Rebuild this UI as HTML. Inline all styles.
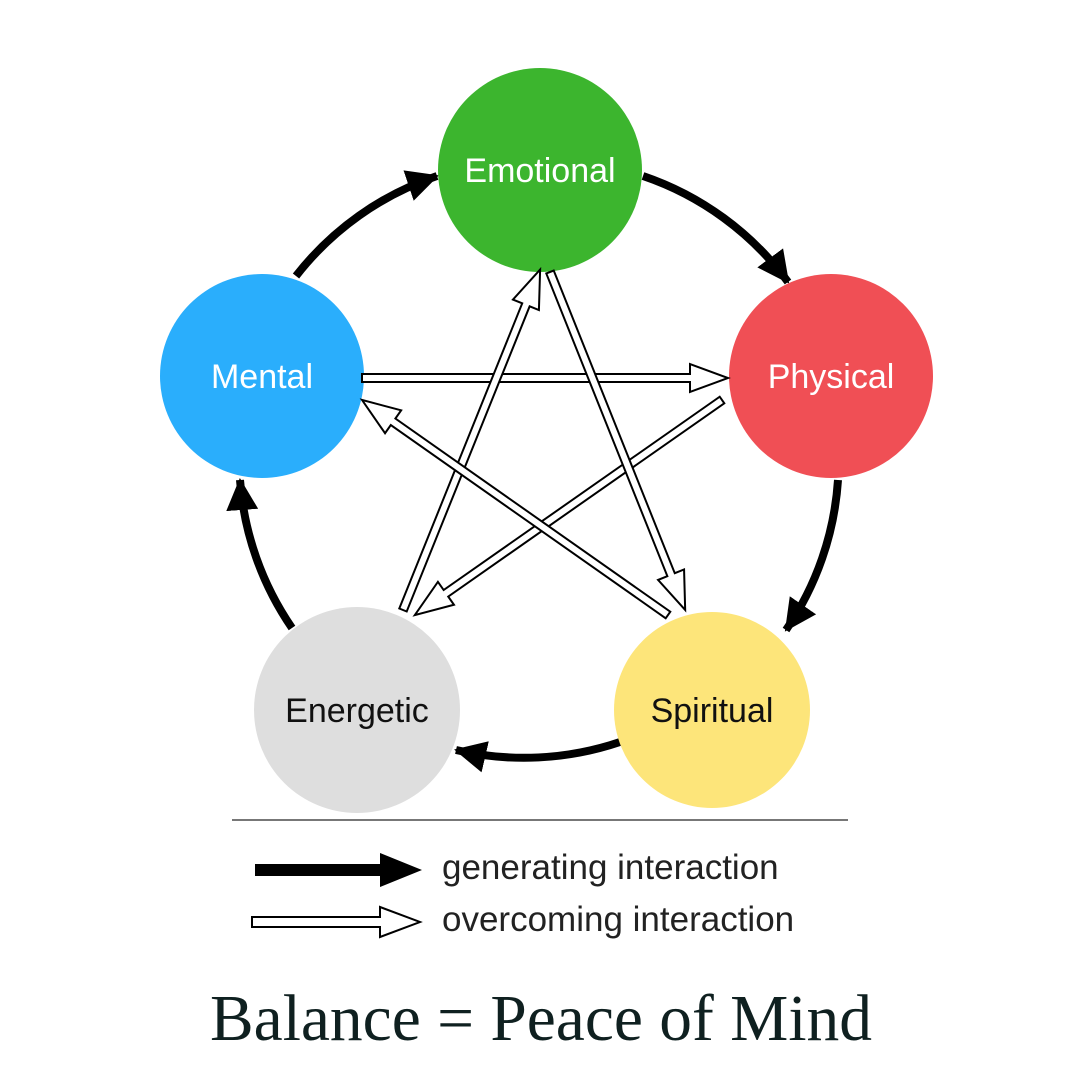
<!DOCTYPE html>
<html><head><meta charset="utf-8"><style>html,body{margin:0;padding:0;background:#fff}svg{display:block}</style></head>
<body>
<svg width="1080" height="1080" viewBox="0 0 1080 1080" xmlns="http://www.w3.org/2000/svg">
<defs>
<marker id="ah" markerUnits="userSpaceOnUse" markerWidth="40" markerHeight="40" refX="30" refY="16" orient="auto">
<path d="M0,0 L32,16 L0,32 Z" fill="#000"/>
</marker>
</defs>
<g fill="none" stroke="#000" stroke-width="8" marker-end="url(#ah)">
<path d="M296,276 A300 300 0 0 1 437,176"/>
<path d="M643,176 A300 300 0 0 1 788,282"/>
<path d="M838,480 A300 300 0 0 1 786,630"/>
<path d="M620,742 A300 300 0 0 1 456,750"/>
<path d="M292,628 A300 300 0 0 1 240,480"/>
</g>
<circle cx="540" cy="170" r="102" fill="#3cb52e"/>
<circle cx="831" cy="376" r="102" fill="#f04f55"/>
<circle cx="712" cy="710" r="98" fill="#fde57a"/>
<circle cx="357" cy="710" r="103" fill="#dedede"/>
<circle cx="262" cy="376" r="102" fill="#2aaefc"/>
<g font-family="Liberation Sans, sans-serif" font-size="34" text-anchor="middle">
<text x="540" y="182" fill="#fff">Emotional</text>
<text x="831" y="388" fill="#fff">Physical</text>
<text x="262" y="388" fill="#fff">Mental</text>
<text x="712" y="722" fill="#111">Spiritual</text>
<text x="357" y="722" fill="#111">Energetic</text>
</g>
<g fill="#fff" stroke="#000" stroke-width="2">
<polygon transform="translate(362,378) rotate(0)" points="0,-4 328,-4 328,-14 366,0 328,14 328,4 0,4"/>
<polygon transform="translate(722,400) rotate(145)" points="0,-4 337,-4 337,-14 375,0 337,14 337,4 0,4"/>
<polygon transform="translate(403,610) rotate(-68.06)" points="0,-4 329,-4 329,-14 367,0 329,14 329,4 0,4"/>
<polygon transform="translate(550,272) rotate(68.2)" points="0,-4 326,-4 326,-14 364,0 326,14 326,4 0,4"/>
<polygon transform="translate(668,615) rotate(215.1)" points="0,-4 336,-4 336,-14 374,0 336,14 336,4 0,4"/>
</g>
<line x1="232" y1="820" x2="848" y2="820" stroke="#777" stroke-width="2"/>
<polygon points="255,864 380,864 380,853 422,870 380,887 380,876 255,876" fill="#000"/>
<polygon points="252,917 380,917 380,907 420,922 380,937 380,927 252,927" fill="#fff" stroke="#000" stroke-width="2"/>
<g font-family="Liberation Sans, sans-serif" font-size="35" fill="#222">
<text x="442" y="879">generating interaction</text>
<text x="442" y="931">overcoming interaction</text>
</g>
<text x="210" y="1040" font-family="Liberation Serif, serif" font-size="66" fill="#0f2020" textLength="662" lengthAdjust="spacingAndGlyphs">Balance = Peace of Mind</text>
</svg>
</body></html>
